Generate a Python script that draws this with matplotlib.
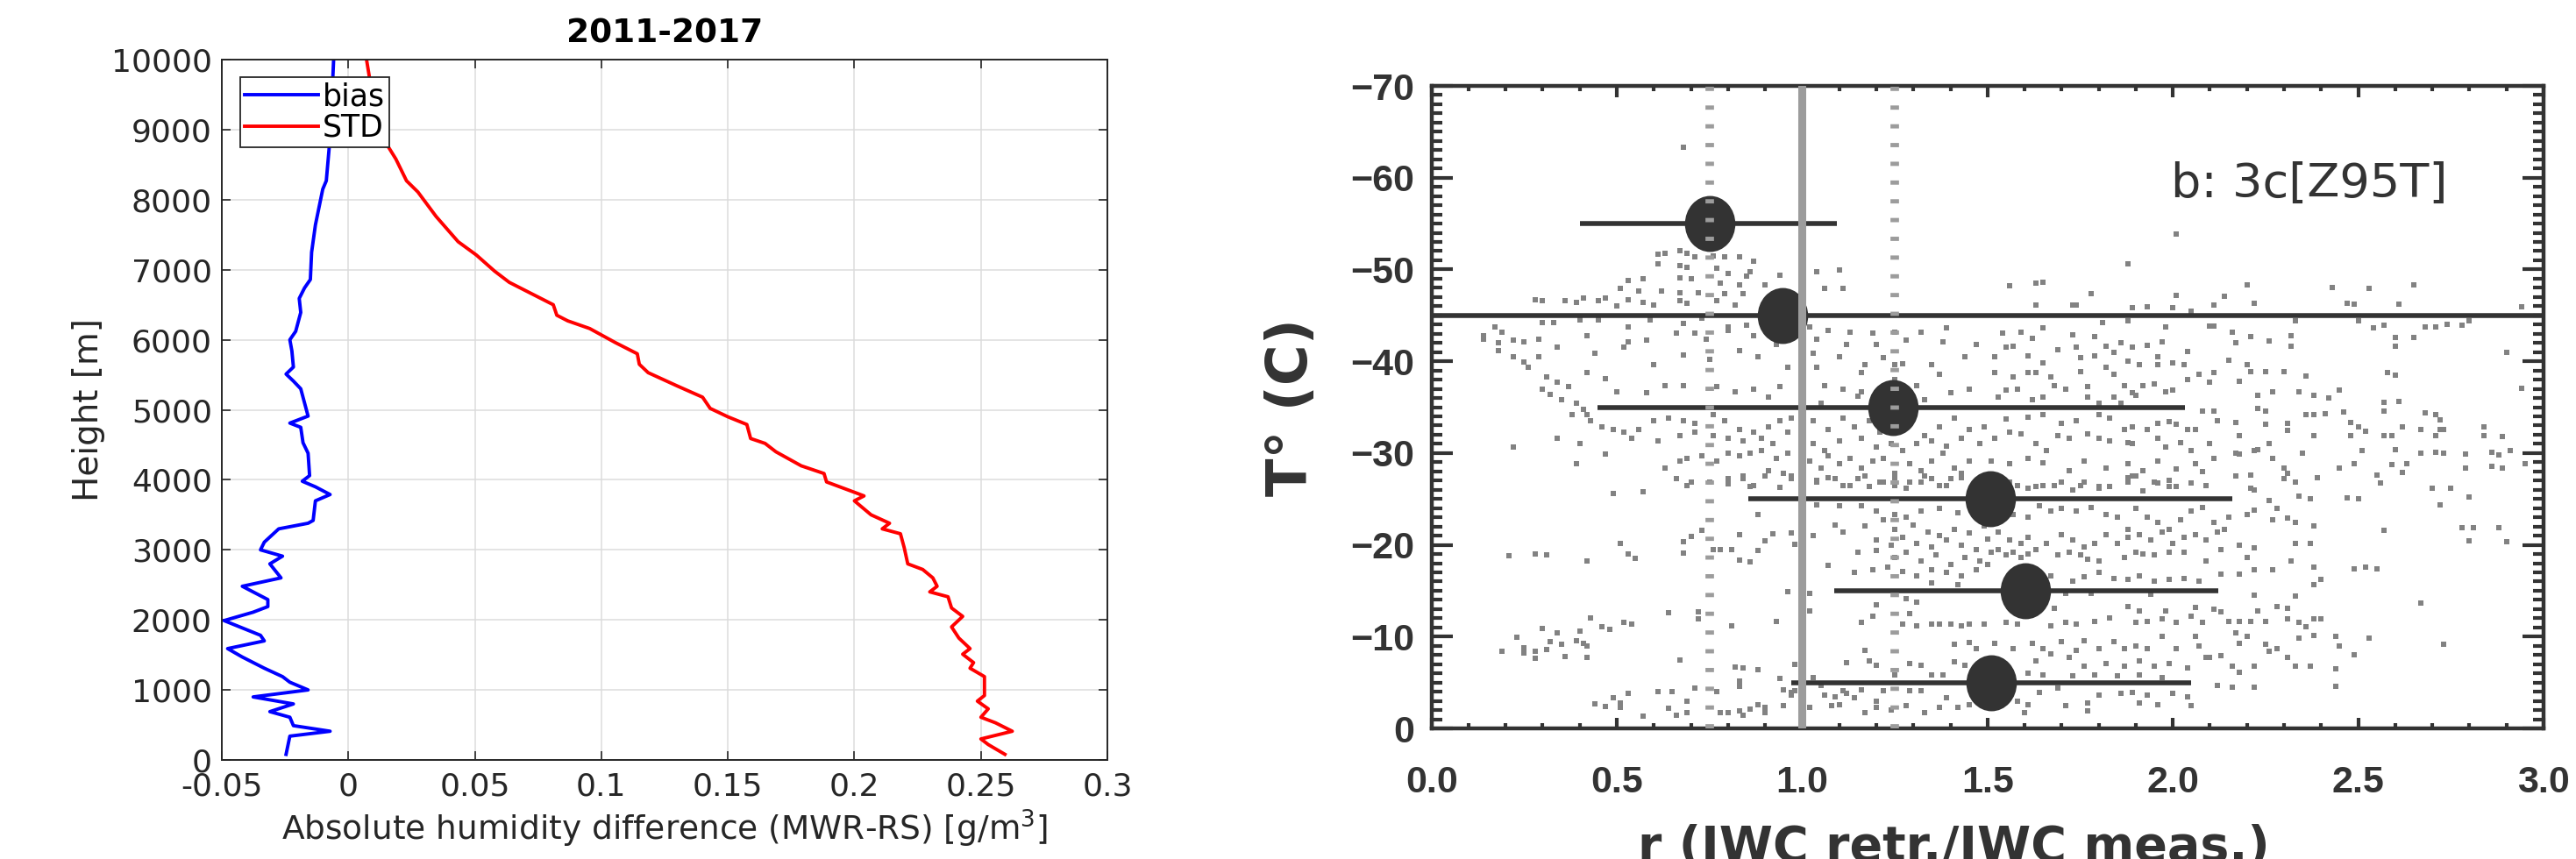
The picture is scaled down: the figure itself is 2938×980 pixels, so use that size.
import numpy as np
import matplotlib.pyplot as plt
from matplotlib.path import Path
from matplotlib.transforms import Affine2D
from matplotlib.ticker import FormatStrFormatter, MultipleLocator

# ---------------- left panel data: MWR-RS humidity profile ----------------
bias_height = [80, 340, 410, 490, 610, 690, 800, 900, 1000, 1110, 1190, 1310, 1470, 1590,
               1700, 1780, 1990, 2110, 2190, 2290, 2480, 2600, 2800, 2910, 3000, 3110, 3300,
               3380, 3420, 3700, 3790, 3900, 3980, 4060, 4380, 4530, 4750, 4810, 4910, 5300,
               5410, 5510, 5610, 5840, 6000, 6120, 6390, 6590, 6740, 6860, 7250, 7640, 8150,
               8270, 8890, 10000]
bias_value = [-0.0246, -0.0231, -0.0072, -0.0217, -0.0231, -0.031, -0.0217, -0.0376, -0.0159,
              -0.0231, -0.026, -0.0332, -0.0419, -0.0477, -0.0332, -0.0347, -0.0491, -0.0376,
              -0.0318, -0.0318, -0.0419, -0.0266, -0.031, -0.026, -0.0347, -0.0332, -0.0275,
              -0.0159, -0.0139, -0.013, -0.0072, -0.013, -0.0182, -0.0153, -0.0159, -0.0179,
              -0.0188, -0.0231, -0.0159, -0.0188, -0.0217, -0.0246, -0.0217, -0.0223, -0.0231,
              -0.0208, -0.0188, -0.0194, -0.0173, -0.015, -0.0145, -0.013, -0.0101, -0.0087,
              -0.0072, -0.0058]
std_height = [80, 220, 300, 410, 530, 610, 730, 840, 920, 1190, 1310, 1390, 1510, 1590, 1740,
              1900, 2050, 2170, 2330, 2400, 2480, 2600, 2720, 2800, 3030, 3230, 3300, 3380,
              3500, 3700, 3770, 3810, 3970, 4090, 4200, 4400, 4520, 4590, 4790, 4900, 5020,
              5180, 5340, 5530, 5650, 5800, 5960, 6160, 6270, 6350, 6500, 6660, 6820, 6980,
              7210, 7400, 7760, 8110, 8270, 8580, 9000, 9670, 10000]
std_value = [0.2595, 0.2529, 0.25, 0.2624, 0.2558, 0.25, 0.2529, 0.2486, 0.2514, 0.2514,
             0.2457, 0.2471, 0.2428, 0.2457, 0.2413, 0.2384, 0.2428, 0.2384, 0.237, 0.2298,
             0.2327, 0.231, 0.227, 0.2211, 0.2197, 0.2182, 0.211, 0.2139, 0.2066, 0.2, 0.2038,
             0.2009, 0.189, 0.188, 0.179, 0.169, 0.1647, 0.159, 0.1575, 0.150, 0.143, 0.140,
             0.130, 0.1185, 0.115, 0.1142, 0.1055, 0.0954, 0.0867, 0.0824, 0.081, 0.0723,
             0.0636, 0.0578, 0.0506, 0.0434, 0.0347, 0.0275, 0.023, 0.0188, 0.0116, 0.0087,
             0.0072]
left_xticks = [-0.05, 0, 0.05, 0.1, 0.15, 0.2, 0.25, 0.3]
left_xticklabels = ['-0.05', '0', '0.05', '0.1', '0.15', '0.2', '0.25', '0.3']
left_yticks = list(range(0, 10001, 1000))

# ---------------- right panel data: r vs temperature ----------------
bin_temp = [-55, -45, -35, -25, -15, -5]
bin_median = [0.75, 0.947, 1.244, 1.508, 1.603, 1.51]
bin_low = [0.40, 0.0, 0.448, 0.854, 1.086, 0.97]
bin_high = [1.093, 3.0, 2.033, 2.16, 2.123, 2.049]
ref_solid = 1.0
ref_dotted = [0.75, 1.25]

# individual retrievals (r, T) in four blocks
dots_cold_left = np.array([
    (.61, -51.7), (.63, -51.8), (.67, -52.0), (.69, -51.8), (.71, -51.4), (.76, -51.5),
    (.79, -51.4), (.83, -51.4), (.87, -50.9), (.61, -50.6), (.67, -50.4), (.69, -50.2),
    (.77, -50.1), (.80, -49.6), (.86, -49.8), (.53, -48.8), (.57, -49.0), (.67, -49.1),
    (.70, -49.0), (.78, -48.5), (.83, -48.3), (.85, -49.3), (.90, -48.3), (.94, -49.4),
    (.51, -47.9), (.56, -47.7), (.62, -47.7), (.67, -47.5), (.72, -47.5), (.79, -47.4),
    (.84, -47.4), (1.04, -49.8), (1.10, -49.9), (1.06, -47.9), (1.11, -47.9), (.28, -46.7),
    (.30, -46.6), (.36, -46.6), (.39, -46.4), (.41, -46.9), (.45, -46.6), (.47, -46.9),
    (.50, -46.0), (.53, -46.7), (.57, -46.4), (.60, -46.1), (.67, -46.6), (.69, -46.3),
    (.77, -46.6), (.82, -46.1), (.30, -44.2), (.33, -44.2), (.40, -44.5), (.45, -44.5),
    (.53, -43.7), (.59, -44.5), (.68, -44.1), (.73, -44.7), (.80, -43.7), (.85, -43.9),
    (.14, -42.8), (.17, -43.7), (.19, -43.2), (.14, -42.4), (.18, -42.0), (.22, -42.3),
    (.25, -42.1), (.29, -42.4), (.34, -41.5), (.42, -42.8), (.53, -42.1), (.58, -42.3),
    (.66, -43.1), (.71, -43.1), (.74, -42.4), (.80, -43.4), (.87, -42.8), (.93, -41.8),
    (1.02, -43.7), (1.07, -43.4), (1.13, -43.2), (1.19, -43.1), (1.25, -43.2), (1.32, -43.2),
    (1.39, -43.6), (1.04, -42.4), (1.12, -41.8), (1.20, -41.8), (1.28, -42.3), (1.38, -42.1),
    (1.47, -41.8), (.18, -41.2), (.22, -40.5), (.25, -39.9), (.26, -39.3), (.29, -40.5),
    (.44, -40.9), (.52, -41.5), (.60, -39.6), (.68, -40.7), (.75, -40.2), (.83, -41.2),
    (.88, -40.5), (.96, -39.3), (1.03, -40.9), (1.10, -40.5), (1.17, -39.6), (1.22, -40.4),
    (1.27, -39.7), (1.35, -39.6), (1.44, -40.5), (1.04, -39.3), (1.16, -38.8), (1.25, -39.6),
    (1.37, -38.6), (.31, -38.3), (.34, -37.7), (.37, -37.2), (.42, -38.8), (.30, -37.0),
    (.32, -36.4), (.35, -35.8), (.47, -38.1), (.50, -36.7), (.58, -36.6), (.63, -37.3),
    (.68, -37.3), (.77, -37.2), (.82, -36.7), (.87, -37.0), (.91, -36.1), (.94, -37.2),
    (1.06, -37.3), (1.11, -37.0), (1.16, -36.7), (1.25, -38.0), (1.31, -37.3), (1.40, -36.6),
    (1.45, -37.0), (1.05, -35.4), (1.15, -36.2), (1.33, -35.8), (.39, -35.4), (.41, -34.8),
    (.42, -34.2), (.38, -34.2), (.43, -33.5), (.46, -32.9), (.49, -32.6), (.52, -32.3),
    (.56, -32.6), (.60, -33.5), (.64, -33.8), (.68, -33.5), (.71, -33.2), (.76, -34.2),
    (.79, -33.5), (.83, -32.6), (.87, -32.3), (.91, -32.9), (.94, -33.5), (.97, -33.8),
    (.34, -31.6), (.40, -31.0), (.54, -31.6), (.61, -31.3), (.67, -31.9), (.71, -32.3),
    (.76, -31.9), (.80, -31.6), (.84, -31.3), (.89, -31.6), (.92, -31.0), (.96, -32.3),
    (1.03, -33.5), (1.07, -32.6), (1.11, -33.8), (1.14, -32.9), (1.18, -33.5), (1.21, -32.3),
    (1.25, -32.6), (1.29, -33.5), (1.33, -31.9), (1.37, -32.9), (1.41, -33.8), (1.45, -32.6),
    (1.49, -32.9), (1.03, -31.0), (1.06, -30.3), (1.10, -31.3), (1.16, -31.6), (1.20, -30.7),
    (1.24, -31.0), (1.27, -30.3), (1.31, -31.0), (1.35, -31.3), (1.39, -30.8), (1.43, -31.6),
    (1.48, -31.0), (.22, -30.7), (.39, -28.8), (.47, -29.9), (.63, -28.4), (.67, -29.1),
    (.69, -29.4), (.73, -29.7), (.77, -29.1), (.80, -30.0), (.83, -29.7), (.86, -30.0),
    (.89, -30.3), (.93, -29.4), (.96, -30.0), (.66, -27.2), (.69, -26.5), (.75, -26.8),
    (.80, -27.2), (.84, -27.5), (.87, -26.5), (.91, -28.1), (.95, -27.8), (.97, -27.2),
    (1.02, -29.1), (1.05, -28.4), (1.07, -29.7), (1.10, -28.8), (1.13, -29.4), (1.16, -28.4),
    (1.19, -29.1), (1.22, -29.4), (1.25, -27.8), (1.29, -28.8), (1.32, -28.1), (1.35, -29.1),
    (1.38, -30.0), (1.41, -28.4), (1.45, -29.1), (1.04, -26.8), (1.09, -27.2), (1.13, -26.5),
    (1.17, -27.5), (1.21, -26.8), (1.25, -26.5), (1.29, -26.8), (1.33, -27.5), (1.37, -26.5),
    (1.40, -27.2), (1.43, -27.8), (.68, -63.3),
])

dots_cold_right = np.array([
    (2.01, -53.9), (1.88, -50.6), (1.56, -48.2), (1.63, -48.5), (1.65, -48.6), (1.78, -47.4),
    (2.01, -47.2), (2.14, -47.1), (2.20, -48.3), (2.43, -48.0), (2.53, -47.9), (2.65, -48.3),
    (1.63, -46.1), (1.73, -46.1), (1.74, -46.1), (1.89, -45.8), (1.93, -45.9), (2.00, -45.8),
    (2.05, -45.5), (2.11, -46.1), (2.22, -46.3), (2.47, -46.3), (2.49, -46.2), (2.61, -46.2),
    (2.94, -45.9), (1.81, -44.2), (1.88, -44.4), (1.98, -43.7), (2.10, -43.8), (2.11, -43.8),
    (2.16, -43.2), (2.33, -44.4), (2.50, -44.4), (2.54, -43.6), (2.57, -43.9), (2.68, -43.7),
    (2.71, -43.7), (2.74, -44.0), (2.78, -43.9), (2.80, -44.4), (1.54, -43.1), (1.59, -43.2),
    (1.62, -42.5), (1.65, -43.6), (1.73, -42.9), (1.79, -42.7), (2.21, -42.7), (2.26, -42.2),
    (2.32, -42.8), (2.32, -41.6), (2.60, -42.6), (2.65, -42.6), (2.60, -41.6), (2.17, -42.0),
    (1.52, -40.5), (1.55, -41.5), (1.57, -41.6), (1.61, -40.6), (1.65, -39.8), (1.69, -41.3),
    (1.74, -41.5), (1.75, -40.4), (1.79, -40.6), (1.82, -41.6), (1.84, -41.0), (1.86, -42.0),
    (1.89, -41.5), (1.93, -41.7), (1.97, -42.1), (1.96, -40.5), (1.88, -40.0), (1.91, -39.6),
    (1.96, -39.6), (2.00, -39.8), (2.03, -39.6), (2.04, -41.1), (2.15, -40.1), (2.20, -39.6),
    (2.21, -38.9), (2.25, -38.9), (2.30, -38.9), (2.36, -38.4), (2.58, -38.8), (2.60, -38.5),
    (2.90, -41.0), (2.07, -38.6), (2.11, -38.8), (2.18, -37.8), (1.52, -38.8), (1.57, -38.3),
    (1.61, -38.8), (1.63, -38.8), (1.67, -38.3), (1.68, -37.3), (1.71, -37.0), (1.75, -38.9),
    (1.77, -37.2), (1.82, -39.3), (1.84, -38.6), (1.87, -37.3), (1.89, -36.6), (1.92, -37.3),
    (1.95, -37.5), (1.98, -36.7), (2.00, -36.9), (2.04, -38.0), (2.10, -37.7), (2.23, -36.3),
    (2.27, -36.7), (2.34, -36.7), (2.38, -36.3), (2.42, -36.0), (2.45, -36.9), (2.94, -37.1),
    (2.57, -35.5), (2.61, -35.6), (1.55, -36.9), (1.58, -37.0), (1.53, -36.1), (1.62, -35.8),
    (1.65, -36.1), (1.77, -36.1), (1.80, -35.4), (1.84, -36.1), (1.86, -35.4), (1.90, -36.3),
    (2.08, -34.6), (2.11, -34.6), (2.23, -34.9), (2.25, -34.6), (2.36, -34.2), (2.38, -34.2),
    (2.41, -34.3), (2.46, -34.5), (2.57, -34.6), (2.68, -34.4), (2.71, -34.2), (2.72, -33.6),
    (1.55, -33.7), (1.61, -33.9), (1.65, -34.2), (1.70, -33.2), (1.74, -33.5), (1.80, -34.2),
    (1.83, -33.8), (1.87, -32.6), (1.89, -32.9), (1.93, -32.6), (1.96, -33.2), (1.99, -33.4),
    (2.01, -33.1), (2.04, -32.6), (2.06, -32.6), (2.12, -33.5), (2.17, -33.3), (2.25, -33.1),
    (2.31, -33.2), (2.31, -32.5), (2.48, -33.3), (2.52, -32.4), (2.50, -32.9), (2.62, -32.9),
    (2.67, -32.6), (2.72, -32.6), (2.73, -32.6), (2.84, -32.9), (2.84, -31.9), (2.89, -31.8),
    (1.52, -31.6), (1.56, -32.3), (1.59, -32.1), (1.63, -31.0), (1.66, -30.3), (1.69, -31.9),
    (1.72, -31.6), (1.77, -32.1), (1.80, -31.6), (1.83, -31.3), (1.88, -31.1), (1.89, -31.0),
    (1.96, -31.6), (1.98, -30.7), (2.02, -31.1), (2.05, -30.3), (2.10, -31.0), (2.18, -31.9),
    (2.23, -30.4), (2.26, -31.0), (2.38, -31.9), (2.48, -31.9), (2.57, -31.9), (2.59, -31.9),
    (2.60, -30.4), (2.71, -31.9), (2.51, -30.3), (1.51, -29.1), (1.56, -28.8), (1.61, -29.4),
    (1.65, -28.9), (1.72, -28.1), (1.76, -29.1), (1.82, -28.4), (1.88, -28.8), (1.89, -27.5),
    (1.92, -28.1), (1.96, -29.1), (2.01, -28.3), (2.06, -28.8), (2.08, -28.0), (2.11, -29.4),
    (2.17, -30.0), (2.18, -29.9), (2.22, -30.3), (2.27, -29.4), (2.30, -28.4), (2.31, -27.8),
    (2.35, -30.0), (2.39, -27.3), (2.45, -28.4), (2.49, -28.8), (2.55, -27.6), (2.59, -28.7),
    (2.62, -27.9), (2.63, -28.8), (2.67, -30.0), (2.71, -30.1), (2.73, -30.0), (2.79, -29.9),
    (2.79, -28.4), (2.86, -30.1), (2.86, -28.6), (2.88, -29.8), (2.91, -30.3), (2.89, -28.4),
    (2.95, -28.8), (1.56, -26.8), (1.61, -26.2), (1.65, -26.5), (1.70, -26.8), (1.75, -26.5),
    (1.80, -26.2), (1.88, -26.8), (1.96, -26.7), (1.99, -26.4), (2.05, -26.7), (2.09, -26.5),
    (2.21, -26.2), (2.33, -26.8), (2.70, -26.2), (2.75, -26.2), (2.56, -26.7),
])

dots_warm_left = np.array([
    (.49, -25.6), (.57, -25.8), (.70, -26.8), (.80, -26.6), (.84, -27.2), (.86, -26.4),
    (.90, -27.5), (.94, -26.3), (.97, -27.5), (1.04, -27.0), (1.07, -27.3), (1.11, -26.5),
    (1.15, -27.2), (1.18, -26.4), (1.22, -26.8), (1.25, -27.3), (1.28, -26.2), (1.32, -26.8),
    (1.35, -27.2), (1.39, -26.5), (1.43, -27.3), (1.48, -26.2), (1.04, -24.4), (1.10, -24.3),
    (1.16, -24.3), (1.20, -23.7), (1.25, -23.3), (1.28, -23.0), (1.32, -23.7), (1.37, -24.0),
    (1.42, -23.5), (1.47, -24.3), (1.50, -23.5), (.88, -23.3), (1.09, -22.2), (1.17, -22.1),
    (1.22, -22.7), (1.25, -21.7), (1.30, -22.2), (1.34, -21.4), (1.37, -21.0), (1.41, -21.7),
    (1.45, -21.3), (1.49, -22.1), (1.11, -21.4), (1.20, -20.5), (1.24, -20.0), (1.27, -20.8),
    (1.31, -20.2), (1.35, -19.8), (1.39, -20.5), (1.43, -20.0), (1.47, -19.5), (1.50, -20.6),
    (1.15, -19.2), (1.20, -19.4), (1.25, -18.6), (1.28, -19.2), (1.32, -18.2), (1.36, -18.9),
    (1.40, -17.9), (1.44, -18.6), (1.48, -18.2), (1.51, -19.2), (1.14, -17.0), (1.19, -17.3),
    (1.23, -17.6), (1.27, -17.1), (1.31, -16.6), (1.35, -17.3), (1.39, -17.0), (1.43, -16.6),
    (1.47, -17.3), (1.50, -17.9), (1.07, -17.8), (1.35, -15.9), (1.42, -15.7), (.51, -20.2),
    (.53, -19.0), (.55, -18.5), (.42, -18.2), (.21, -18.8), (.28, -19.0), (.31, -18.9),
    (.68, -20.3), (.68, -19.1), (.70, -20.9), (.73, -21.6), (.76, -19.5), (.78, -19.5),
    (.81, -19.5), (.83, -18.3), (.86, -18.1), (.83, -21.1), (.88, -19.4), (.90, -20.4),
    (.92, -21.2), (.97, -21.3), (.98, -20.1), (1.03, -21.0), (.96, -14.9), (1.02, -14.7),
    (1.02, -12.8), (1.20, -13.5), (1.28, -14.1), (1.31, -13.8), (1.29, -12.5), (1.19, -12.2),
    (1.16, -11.6), (1.27, -11.4), (1.31, -11.2), (1.35, -11.4), (1.37, -11.4), (1.40, -11.4),
    (1.43, -11.2), (1.45, -11.4), (1.49, -11.4), (.64, -12.6), (.72, -12.7), (.72, -11.9),
    (.81, -11.2), (.93, -11.7), (.43, -12.0), (.46, -11.1), (.48, -10.8), (.52, -11.6),
    (.54, -11.4), (.23, -9.9), (.25, -8.8), (.25, -8.2), (.28, -8.4), (.28, -7.6), (.31, -8.6),
    (.32, -9.5), (.34, -10.4), (.35, -9.2), (.36, -7.8), (.39, -9.6), (.40, -10.6), (.41, -9.3),
    (.42, -9.0), (.42, -7.7), (.30, -10.9), (.19, -8.4), (.67, -7.5), (.98, -7.0), (1.12, -7.2),
    (1.17, -8.5), (1.18, -7.4), (1.20, -6.9), (1.29, -7.1), (1.32, -6.9), (1.41, -9.2),
    (1.45, -9.4), (1.47, -8.7), (1.41, -7.3), (1.44, -6.9), (1.46, -5.8), (.82, -6.7),
    (.84, -6.6), (.88, -6.4), (.83, -5.2), (.83, -4.6), (.94, -5.4), (.95, -4.2), (.97, -3.9),
    (.98, -4.1), (1.03, -5.5), (1.05, -4.7), (1.06, -3.6), (1.09, -3.4), (1.11, -4.1),
    (1.12, -3.8), (1.14, -3.3), (1.16, -4.2), (1.20, -3.0), (1.22, -4.1), (1.25, -5.8),
    (1.29, -4.1), (1.32, -4.1), (1.35, -5.8), (1.38, -5.8), (1.39, -3.3), (.44, -2.7),
    (.47, -2.4), (.49, -3.3), (.51, -2.3), (.51, -2.8), (.53, -3.8), (.57, -1.3), (.61, -4.0),
    (.65, -4.0), (.64, -2.2), (.66, -1.4), (.69, -3.0), (.71, -4.4), (.69, -1.7), (.77, -4.0),
    (.78, -1.7), (.80, -1.7), (.83, -1.9), (.84, -1.4), (.86, -2.1), (.88, -2.6), (.90, -2.3),
    (.90, -1.7), (.95, -2.5), (.97, -3.6), (1.02, -2.3), (1.08, -2.5), (1.10, -2.6),
    (1.17, -1.7), (1.20, -2.3), (1.24, -2.0), (1.28, -2.5), (1.33, -1.7), (1.37, -2.3),
    (1.42, -2.3), (1.45, -2.6),
])

dots_warm_right = np.array([
    (1.58, -26.5), (1.63, -26.4), (1.68, -26.5), (1.73, -26.0), (1.76, -26.8), (1.80, -26.4),
    (1.83, -26.4), (1.88, -27.3), (1.90, -27.5), (1.92, -25.9), (1.95, -26.8), (1.99, -27.0),
    (2.01, -26.4), (2.05, -26.7), (2.09, -26.5), (2.17, -27.5), (2.21, -27.6), (2.30, -27.2),
    (2.33, -26.8), (2.39, -27.3), (2.55, -27.6), (2.56, -26.7), (2.70, -26.2), (2.75, -26.2),
    (2.80, -25.2), (2.72, -24.4), (2.78, -21.9), (2.81, -21.9), (2.88, -21.9), (2.80, -20.4),
    (2.90, -20.3), (2.34, -25.3), (2.37, -25.0), (2.47, -25.1), (2.50, -25.0), (2.26, -24.8),
    (2.22, -26.0), (2.20, -23.3), (2.22, -23.8), (2.28, -24.0), (2.27, -22.7), (2.31, -22.9),
    (2.33, -22.4), (2.38, -22.1), (2.57, -21.6), (1.54, -24.0), (1.57, -23.3), (1.61, -23.0),
    (1.64, -24.3), (1.67, -23.7), (1.70, -24.0), (1.74, -23.7), (1.78, -24.1), (1.82, -23.3),
    (1.85, -23.0), (1.88, -21.7), (1.90, -24.0), (1.93, -23.0), (1.96, -22.4), (1.99, -21.7),
    (2.02, -22.7), (2.05, -23.7), (2.08, -24.1), (2.11, -22.4), (2.14, -21.7), (2.15, -23.0),
    (1.53, -21.4), (1.56, -20.5), (1.59, -20.2), (1.61, -20.8), (1.63, -19.5), (1.66, -20.2),
    (1.70, -21.1), (1.73, -20.5), (1.76, -19.8), (1.79, -20.2), (1.82, -21.1), (1.85, -20.2),
    (1.88, -20.8), (1.91, -21.1), (1.94, -20.5), (1.97, -21.4), (2.00, -20.2), (2.03, -20.8),
    (2.06, -21.1), (2.09, -20.5), (2.12, -21.4), (1.53, -19.5), (1.55, -18.9), (1.57, -19.2),
    (1.59, -18.6), (1.61, -19.0), (1.69, -18.9), (1.72, -19.2), (1.75, -18.9), (1.77, -18.4),
    (1.80, -18.2), (1.87, -18.6), (1.90, -19.2), (1.92, -19.0), (1.95, -18.9), (1.99, -19.2),
    (2.03, -19.2), (2.09, -18.2), (2.13, -19.5), (2.18, -20.0), (2.20, -18.6), (2.22, -19.7),
    (2.32, -18.2), (2.37, -20.2), (2.33, -20.2), (2.38, -17.6), (2.49, -17.4), (2.52, -17.6),
    (2.55, -17.4), (2.67, -13.7), (2.73, -9.2), (1.67, -16.6), (1.73, -16.0), (1.76, -16.5),
    (1.80, -17.0), (1.84, -16.3), (1.88, -16.2), (1.91, -16.6), (1.95, -16.0), (1.99, -16.2),
    (2.03, -16.3), (2.07, -16.0), (2.13, -16.8), (2.18, -16.8), (2.22, -17.3), (2.27, -17.3),
    (1.71, -14.7), (1.78, -14.7), (1.94, -14.6), (2.22, -14.5), (2.33, -14.4), (2.40, -16.2),
    (2.38, -15.7), (1.68, -13.1), (1.55, -11.6), (1.58, -11.4), (1.67, -11.2), (1.71, -11.6),
    (1.74, -11.4), (1.79, -11.7), (1.83, -12.0), (1.88, -13.3), (1.91, -12.8), (1.90, -11.6),
    (1.93, -11.7), (1.98, -12.8), (1.97, -11.9), (2.01, -11.6), (2.05, -12.2), (2.06, -13.2),
    (2.11, -13.0), (2.13, -12.7), (2.08, -11.6), (2.15, -11.7), (2.18, -11.7), (2.21, -11.7),
    (2.25, -11.7), (2.28, -13.3), (2.31, -13.1), (2.31, -11.9), (2.34, -11.6), (2.36, -11.1),
    (2.38, -11.9), (2.40, -11.9), (2.23, -12.8), (1.52, -9.3), (1.57, -8.7), (1.62, -9.3),
    (1.65, -8.7), (1.70, -9.5), (1.74, -8.5), (1.76, -9.6), (1.80, -8.7), (1.84, -9.5),
    (1.87, -8.7), (1.90, -9.0), (1.93, -8.7), (1.97, -10.0), (2.01, -8.7), (2.07, -9.0),
    (2.06, -10.0), (2.10, -7.7), (2.13, -7.9), (2.18, -9.3), (2.17, -10.4), (2.20, -10.0),
    (2.25, -9.2), (2.28, -8.7), (2.26, -8.4), (2.31, -7.7), (2.34, -9.8), (2.38, -10.1),
    (2.44, -10.0), (2.45, -9.0), (2.53, -9.8), (2.49, -8.0), (1.53, -7.4), (1.63, -7.4),
    (1.67, -8.1), (1.72, -7.7), (1.76, -6.8), (1.82, -7.1), (1.87, -6.8), (1.91, -7.4),
    (1.95, -6.8), (1.99, -7.1), (2.04, -6.6), (2.09, -7.7), (2.16, -6.8), (2.18, -6.1),
    (2.22, -6.8), (2.33, -6.8), (2.37, -6.8), (2.44, -6.5), (1.61, -6.0), (1.65, -5.8),
    (1.73, -5.7), (1.79, -5.8), (1.85, -5.7), (1.91, -5.8), (1.97, -5.5), (2.12, -4.7),
    (2.16, -4.5), (2.22, -4.5), (2.44, -4.6), (1.58, -3.0), (1.61, -2.6), (1.64, -3.9),
    (1.69, -4.4), (1.71, -2.5), (1.77, -2.8), (1.77, -1.9), (1.80, -3.6), (1.86, -3.8),
    (1.89, -3.9), (1.91, -2.8), (1.93, -3.6), (1.96, -2.6), (2.00, -3.8), (2.04, -3.4),
    (2.05, -2.5), (1.60, -1.7),
])

plt.rcParams['font.family'] = ['DejaVu Sans']
fig = plt.figure(figsize=(29.38, 9.8), dpi=100)

# ---------------- left panel ----------------
dark = '#262626'
ax1 = fig.add_axes([0.0861, 0.1153, 0.3438, 0.8153])
ax1.plot(bias_value, bias_height, color='#0000ff', lw=2.8, label='bias')
ax1.plot(std_value, std_height, color='#ff0000', lw=2.8, label='STD')
ax1.set_xlim(-0.05, 0.3)
ax1.set_ylim(0, 10000)
ax1.set_xticks(left_xticks)
ax1.set_xticklabels(left_xticklabels)
ax1.set_yticks(left_yticks)
ax1.grid(True, color='#dcdcdc', lw=1.1)
ax1.set_axisbelow(True)
ax1.tick_params(direction='in', length=7, width=1.2, top=True, right=True,
                colors=dark, labelsize=26)
ax1.tick_params(axis='x', pad=10)
ax1.tick_params(axis='y', pad=8)
for s in ax1.spines.values():
    s.set_color(dark)
    s.set_linewidth(1.4)
ax1.set_xlabel('Absolute humidity difference (MWR-RS) [g/m$^3$]', fontsize=27, color=dark,
               labelpad=5)
ax1.set_ylabel('Height [m]', fontsize=28, color=dark, labelpad=5)
ax1.set_title('2011-2017', fontsize=27, fontweight='bold', pad=14)
leg = ax1.legend(loc='upper left', bbox_to_anchor=(0.021, 0.975), fontsize=25,
                 fancybox=False, framealpha=1, edgecolor=dark, borderpad=0.15,
                 labelspacing=0.05, handlelength=2.4, handletextpad=0.15, borderaxespad=0)
leg.get_frame().set_linewidth(1.3)

# ---------------- right panel ----------------
ink = '#333333'
ax2 = fig.add_axes([0.5557, 0.152, 0.4317, 0.748])
for blk in (dots_cold_left, dots_cold_right, dots_warm_left, dots_warm_right):
    ax2.scatter(blk[:, 0], blk[:, 1], s=14, marker='s', color='#828282', lw=0, zorder=1)

ax2.hlines(bin_temp, bin_low, bin_high, color=ink, lw=4, zorder=3)
ell = Path.unit_circle().transformed(Affine2D().scale(0.9, 1.0))
ax2.plot(bin_median, bin_temp, ls='none', marker=ell, markersize=46, color=ink,
         markeredgewidth=0, zorder=4)
ax2.axvline(ref_solid, color='#9c9c9c', lw=6.5, zorder=5)
for xv in ref_dotted:
    ax2.axvline(xv, color='#9c9c9c', lw=7, ls=(0, (0.5, 1.7)), zorder=5)

ax2.text(2.74, -59.3, 'b: 3c[Z95T]', fontsize=39, color=ink, va='center', ha='right')

ax2.set_xlim(0, 3.0)
ax2.set_ylim(0, -70)
ax2.xaxis.set_major_locator(MultipleLocator(0.5))
ax2.xaxis.set_minor_locator(MultipleLocator(0.1))
ax2.yaxis.set_major_locator(MultipleLocator(10))
ax2.yaxis.set_minor_locator(MultipleLocator(1))
ax2.xaxis.set_major_formatter(FormatStrFormatter('%.1f'))
ax2.tick_params(which='both', direction='in', top=True, right=True, color=ink, width=3)
ax2.tick_params(axis='x', which='major', length=9, pad=30)
ax2.tick_params(axis='x', which='minor', length=4.5)
ax2.tick_params(axis='y', which='major', length=17, pad=14)
ax2.tick_params(axis='y', which='minor', length=8.5)
for lab in ax2.get_xticklabels() + ax2.get_yticklabels():
    lab.set_family(['Liberation Sans', 'DejaVu Sans'])
    lab.set_fontweight('bold')
    lab.set_fontsize(31)
    lab.set_color(ink)
for s in ax2.spines.values():
    s.set_color(ink)
    s.set_linewidth(3.2)
ax2.set_ylabel('T° (C)', fontsize=46, fontweight='bold', color=ink, labelpad=26)
ax2.set_xlabel('r (IWC retr./IWC meas.)', fontsize=40, fontweight='bold', color=ink)
ax2.xaxis.set_label_coords(0.47, -0.148)

fig.savefig('out.png', dpi=100)
